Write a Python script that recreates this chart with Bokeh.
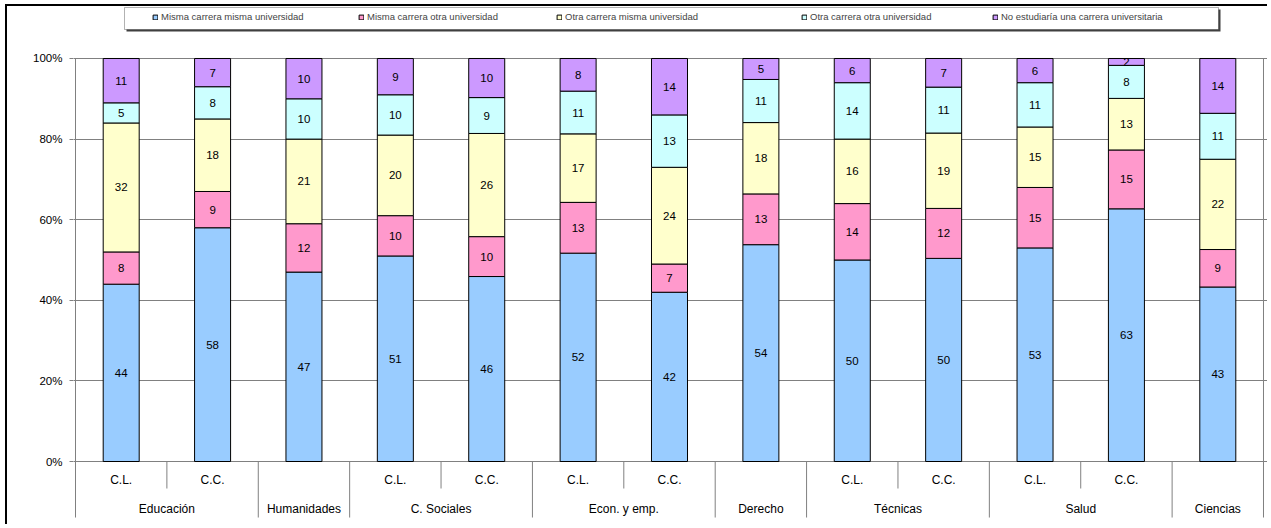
from bokeh.plotting import figure
from bokeh.models import (Range1d, FixedTicker, Legend, LegendItem, BoxAnnotation,
                          ColumnDataSource)
from bokeh.core.properties import value
from bokeh.embed import file_html
from bokeh.resources import INLINE

# ---------------- data ----------------
slots = ["Educación C.L.", "Educación C.C.", "Humanidades", "C. Sociales C.L.",
         "C. Sociales C.C.", "Econ. y emp. C.L.", "Econ. y emp. C.C.", "Derecho",
         "Técnicas C.L.", "Técnicas C.C.", "Salud C.L.", "Salud C.C.", "Ciencias"]
sub_labels = ["C.L.", "C.C.", "", "C.L.", "C.C.", "C.L.", "C.C.", "",
              "C.L.", "C.C.", "C.L.", "C.C.", ""]
groups = ["Educación", "Humanidades", "C. Sociales", "Econ. y emp.", "Derecho",
          "Técnicas", "Salud", "Ciencias"]
group_sizes = [2, 1, 2, 2, 1, 2, 2, 1]

series_names = ["Misma carrera misma universidad",
                "Misma carrera otra universidad",
                "Otra carrera misma universidad",
                "Otra carrera otra universidad",
                "No estudiaría una carrera universitaria"]
misma_misma = [44, 58, 47, 51, 45.9, 51.7, 42, 53.8, 50, 50.4, 53, 62.7, 43.3]
misma_otra = [8, 9, 12, 10, 9.9, 12.6, 7, 12.6, 14, 12.4, 15, 14.6, 9.3]
otra_misma = [32, 18, 21, 20, 25.6, 17.0, 24, 17.7, 16, 18.7, 15, 12.8, 22.4]
otra_otra = [5, 8, 10, 10, 8.9, 10.6, 13, 10.7, 14, 11.4, 11, 8.2, 11.4]
no_estudiaria = [11, 7, 10, 9, 9.7, 8.1, 14, 5.2, 6, 7.1, 6, 1.7, 13.6]
series = [misma_misma, misma_otra, otra_misma, otra_otra, no_estudiaria]
colors = ["#99CCFF", "#FF99CC", "#FFFFCC", "#CCFFFF", "#CC99FF"]

y_ticks = [0, 20, 40, 60, 80, 100]
y_tick_labels = ["0%", "20%", "40%", "60%", "80%", "100%"]

# ---------------- figure ----------------
FONT = value("Liberation Sans")
GRAY = "#808080"
n = len(slots)
xc = [i + 0.5 for i in range(n)]

p = figure(width=1262, height=520, output_backend="svg", toolbar_location=None,
           x_range=Range1d(-0.02189, n + 0.0438), y_range=Range1d(-16.129, 112.903),
           min_border_left=66, min_border_right=2, min_border_top=0,
           min_border_bottom=0, x_axis_location=None)
p.outline_line_color = None
p.background_fill_color = "white"
p.border_fill_color = "white"
# outer chart border: only its left and top edges fall inside the picture
p.styles = {"border-left": "2px solid black", "border-top": "2px solid black",
            "margin-left": "5px", "margin-top": "4px"}
p.xgrid.visible = False
p.ygrid.ticker = FixedTicker(ticks=y_ticks)
p.ygrid.grid_line_color = GRAY
p.yaxis.ticker = FixedTicker(ticks=y_ticks)
p.yaxis.major_label_overrides = {t: l for t, l in zip(y_ticks, y_tick_labels)}
p.yaxis.axis_line_color = None
p.yaxis.major_tick_line_color = GRAY
p.yaxis.major_tick_out = 4
p.yaxis.major_tick_in = 0
p.yaxis.minor_tick_line_color = None
p.yaxis.major_label_standoff = 7
p.yaxis.major_label_text_font = "Liberation Sans"
p.yaxis.major_label_text_font_size = "11.5px"
p.yaxis.major_label_text_color = "black"

# legend box with shadow
shadow = BoxAnnotation(left=117, right=1211, top=1, bottom=23,
                       left_units="canvas", right_units="canvas",
                       top_units="canvas", bottom_units="canvas",
                       fill_color="#404040", fill_alpha=1, line_color=None)
p.add_layout(shadow)
lbox = BoxAnnotation(left=115, right=1209, top=-1, bottom=21,
                     left_units="canvas", right_units="canvas",
                     top_units="canvas", bottom_units="canvas",
                     fill_color="white", fill_alpha=1, line_color="black", line_width=1)
p.add_layout(lbox)

# bars
data = {"x": xc}
for name, vals in zip(series_names, series):
    data[name] = vals
src = ColumnDataSource(data)
rends = p.vbar_stack(series_names, x="x", width=0.394, source=src,
                     fill_color=colors, line_color="black", line_width=1)

# segment labels
lx, ly, lt = [], [], []
for i in range(n):
    base = 0.0
    for vals in series:
        v = vals[i]
        lx.append(xc[i])
        ly.append(base + v / 2)
        lt.append(str(int(v + 0.5)))
        base += v
p.text(x=lx, y=ly, text=lt, text_font=FONT, text_font_size="11.5px",
       text_align="center", text_baseline="middle", text_color="black")

# category axis: separators
group_edges = [0]
for s in group_sizes:
    group_edges.append(group_edges[-1] + s)
inner_edges = [i for i in range(1, n) if i not in group_edges]
p.segment(x0=[0, n], y0=[100, 100], x1=[0, n], y1=[-13.9, -13.9],
          line_color=GRAY, line_width=1)
mid_edges = group_edges[1:-1]
p.segment(x0=mid_edges, y0=[0] * len(mid_edges), x1=mid_edges,
          y1=[-13.9] * len(mid_edges), line_color=GRAY, line_width=1)
p.segment(x0=inner_edges, y0=[0] * len(inner_edges), x1=inner_edges,
          y1=[-6.7] * len(inner_edges), line_color=GRAY, line_width=1)

# category labels
p.text(x=xc, y=[-4.7] * n, text=sub_labels, text_font=FONT, text_font_size="12px",
       text_align="center", text_baseline="middle", text_color="black")
gx = [(group_edges[k] + group_edges[k + 1]) / 2 for k in range(len(groups))]
p.text(x=gx, y=[-11.8] * len(groups), text=groups, text_font=FONT,
       text_font_size="12px", text_align="center", text_baseline="middle",
       text_color="black")

# legend (one entry per position, as in the original)
legend_x = [79, 285, 483, 728, 919]
for nm, r, lxp in zip(series_names, rends, legend_x):
    lg = Legend(items=[LegendItem(label=nm, renderers=[r])], orientation="horizontal",
                location=(lxp, 504), padding=0, margin=0, glyph_width=6, glyph_height=6,
                label_standoff=3, label_height=10, label_width=10,
                label_text_font="Liberation Sans", label_text_font_size="9.5px",
                border_line_color=None, background_fill_alpha=0)
    p.add_layout(lg, "center")

open("out.html", "w").write(file_html(p, INLINE))
